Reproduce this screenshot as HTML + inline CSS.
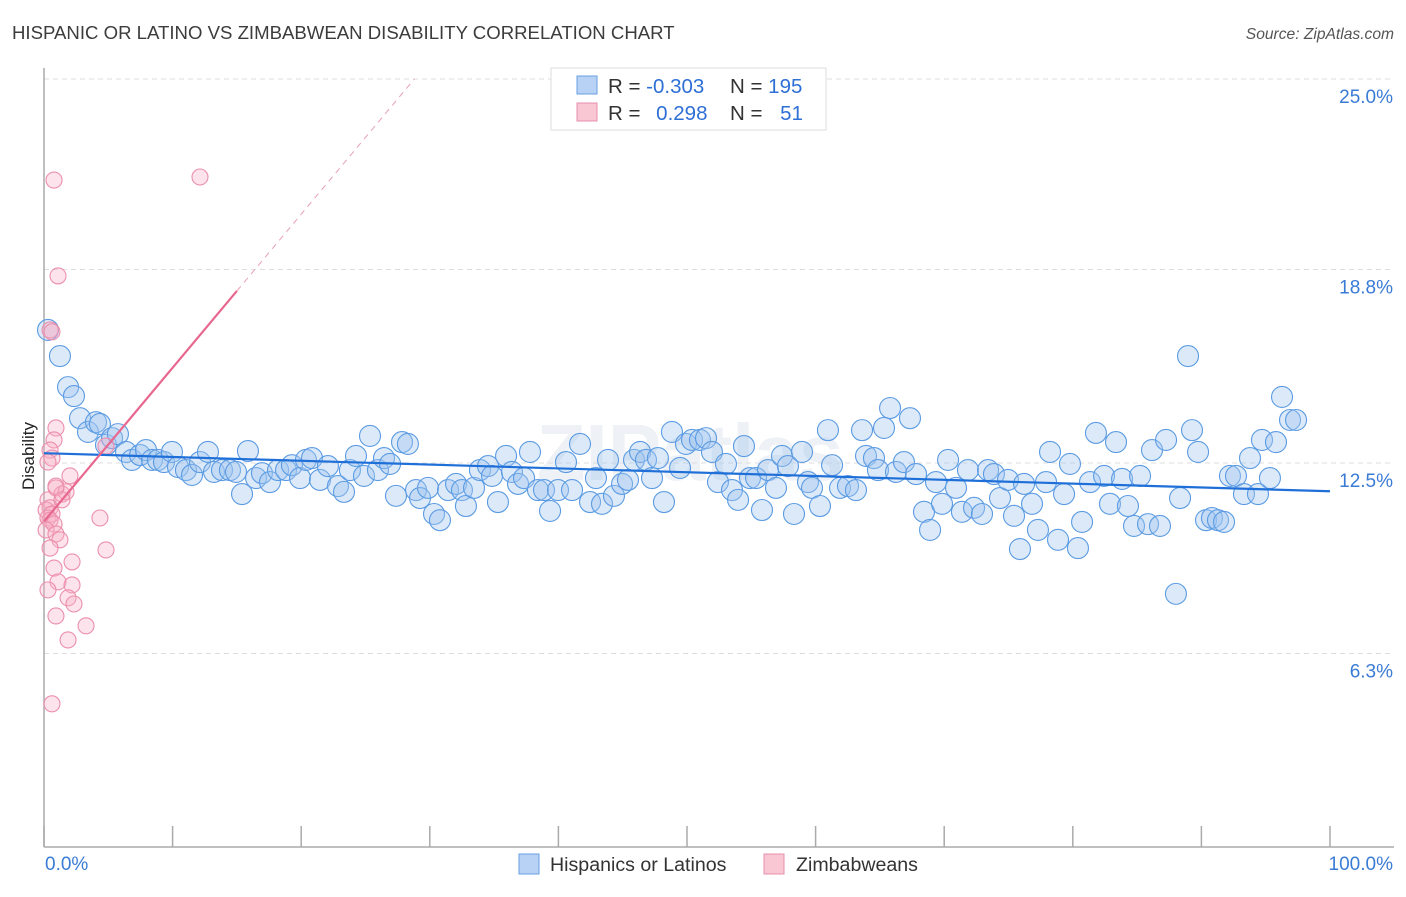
<!DOCTYPE html>
<html><head><meta charset="utf-8"><style>
body{margin:0;background:#fff;font-family:"Liberation Sans",sans-serif;}
</style></head><body>
<svg id="chart" width="1406" height="892" xmlns="http://www.w3.org/2000/svg" style="font-family:'Liberation Sans',sans-serif">
<text x="12" y="39" font-size="18.6" fill="#3c3c3c">HISPANIC OR LATINO VS ZIMBABWEAN DISABILITY CORRELATION CHART</text>
<text x="1394" y="39" font-size="15.6" fill="#555" font-style="italic" text-anchor="end">Source: ZipAtlas.com</text>
<text x="690" y="480" font-size="80" fill="#eef1f6" text-anchor="middle" font-weight="bold">ZIPatlas</text>
<g id="grid"></g>
<g id="axes"></g>
<g id="blue"></g>
<g id="pink"></g>
<g id="trends"></g>
<text x="34" y="456" font-size="17" fill="#222" text-anchor="middle" transform="rotate(-90 34 456)">Disability</text>
<g>
<rect x="551" y="68" width="275" height="62" fill="#fff" stroke="#ddd"/>
<rect x="577" y="76" width="20" height="18" fill="#b7d2f5" stroke="#6a9fe0"/>
<rect x="577" y="103" width="20" height="18" fill="#f9c6d4" stroke="#e78fab"/>
<text x="608" y="93" font-size="20.5" fill="#333">R = <tspan fill="#2e6fd6">-0.303</tspan></text>
<text x="730" y="93" font-size="20.5" fill="#333">N = <tspan fill="#2e6fd6">195</tspan></text>
<text x="608" y="120" font-size="20.5" fill="#333">R = <tspan fill="#2e6fd6" dx="10">0.298</tspan></text>
<text x="730" y="120" font-size="20.5" fill="#333">N = <tspan fill="#2e6fd6" dx="12">51</tspan></text>
</g>
<g>
<rect x="519" y="854" width="20" height="20" fill="#b7d2f5" stroke="#6a9fe0"/>
<text x="550" y="871" font-size="19.6" fill="#333">Hispanics or Latinos</text>
<rect x="764" y="854" width="20" height="20" fill="#f9c6d4" stroke="#e78fab"/>
<text x="796" y="871" font-size="19.6" fill="#333">Zimbabweans</text>
</g>
</svg>
<script>
const yTicks=[25.0,18.8,12.5,6.3];
const yTickLabels=["25.0%","18.8%","12.5%","6.3%"];
const xTickLabels=["0.0%","100.0%"];
const blueX=[0.31,1.24,1.87,2.33,2.80,3.42,4.04,4.35,4.82,5.29,5.75,6.38,6.84,7.47,7.93,8.40,8.86,9.33,9.95,10.42,11.04,11.51,12.13,12.75,13.22,13.84,14.46,14.93,15.40,15.86,16.49,16.95,17.57,18.20,18.82,19.28,19.91,20.37,20.84,21.46,22.08,22.86,23.33,23.79,24.26,24.88,25.35,25.97,26.44,26.91,27.37,27.84,28.30,28.93,29.24,29.86,30.33,30.79,31.42,32.04,32.50,32.81,33.44,33.90,34.53,34.84,35.30,35.93,36.39,36.86,37.33,37.79,38.41,38.88,39.35,39.97,40.59,41.06,41.68,42.46,42.92,43.39,43.86,44.32,44.95,45.41,45.88,46.35,46.81,47.28,47.74,48.21,48.83,49.46,49.92,50.39,51.01,51.48,51.94,52.41,53.03,53.50,53.97,54.43,54.90,55.37,55.83,56.30,56.92,57.39,57.85,58.32,58.94,59.41,59.72,60.34,60.96,61.28,61.90,62.52,63.14,63.61,63.92,64.54,64.85,65.32,65.79,66.25,66.87,67.34,67.81,68.43,68.90,69.36,69.83,70.30,70.92,71.38,71.85,72.32,72.94,73.41,73.87,74.34,74.96,75.43,75.89,76.21,76.83,77.29,77.92,78.23,78.85,79.32,79.78,80.40,80.72,81.34,81.80,82.43,82.89,83.36,83.83,84.29,84.76,85.23,85.85,86.16,86.78,87.25,88.02,88.34,88.96,89.27,89.74,90.36,90.82,91.29,91.76,92.22,92.69,93.31,93.78,94.40,94.71,95.33,95.80,96.27,96.89,97.36];
const blueY=[16.83,15.98,14.97,14.68,13.96,13.51,13.83,13.77,13.09,13.31,13.44,12.86,12.60,12.76,12.92,12.60,12.60,12.53,12.86,12.37,12.27,12.11,12.53,12.86,12.21,12.27,12.27,12.21,11.49,12.89,12.01,12.17,11.88,12.27,12.27,12.43,12.01,12.60,12.66,11.95,12.40,11.75,11.56,12.27,12.73,12.08,13.38,12.27,12.66,12.47,11.43,13.18,13.12,11.62,11.36,11.69,10.84,10.64,11.62,11.82,11.62,11.10,11.69,12.27,12.40,12.08,11.23,12.73,12.21,11.82,12.01,12.86,11.62,11.62,10.94,11.62,12.53,11.62,13.12,11.23,12.01,11.17,12.60,11.43,11.82,11.95,12.60,12.86,12.60,12.01,12.66,11.23,13.51,12.34,13.12,13.25,13.25,13.31,12.86,11.88,12.47,11.62,11.30,13.05,12.01,12.01,10.97,12.27,11.69,12.73,12.40,10.84,12.86,11.88,11.69,11.10,13.57,12.43,11.69,11.75,11.62,13.57,12.73,12.66,12.27,13.64,14.29,12.21,12.53,13.96,12.14,10.91,10.32,11.88,11.17,12.60,11.69,10.91,12.27,11.04,10.84,12.27,12.14,11.36,11.95,10.78,9.70,11.82,11.17,10.32,11.88,12.86,10.00,11.49,12.47,9.73,10.58,11.88,13.48,12.08,11.17,13.18,11.98,11.10,10.45,12.08,10.51,12.92,10.45,13.25,8.24,11.36,15.98,13.57,12.86,10.64,10.71,10.64,10.58,12.08,12.08,11.49,12.66,11.49,13.25,12.01,13.18,14.65,13.90,13.90];
const pinkX=[0.78,12.13,1.09,0.47,0.62,4.82,0.93,0.78,0.47,0.62,0.31,2.02,0.93,1.40,1.71,0.31,0.47,0.16,0.62,0.31,0.47,0.78,0.16,0.93,1.24,0.47,4.35,4.82,2.18,0.78,1.09,2.18,1.87,2.33,0.31,0.93,3.27,1.87,0.62,0.93,1.40];
const pinkY=[21.71,21.81,18.59,16.83,16.77,13.05,13.64,13.25,12.92,12.66,12.53,12.08,11.75,11.49,11.56,11.30,11.04,10.97,10.84,10.71,10.64,10.51,10.32,10.19,10.00,9.73,10.71,9.67,9.28,9.08,8.63,8.53,8.11,7.91,8.37,7.52,7.20,6.74,4.66,11.69,11.30];
const blueTrend=[12.82,-0.0124];
const pinkTrend=[10.6,0.50];
const NS="http://www.w3.org/2000/svg";
const X0=44,X1=1330,Y25=79,YPX=30.72;
function sx(v){return X0+(X1-X0)*v/100;}
function sy(v){return Y25+(25-v)*YPX;}
function mk(tag,attrs,parent){const e=document.createElementNS(NS,tag);for(const k in attrs)e.setAttribute(k,attrs[k]);parent.appendChild(e);return e;}
const grid=document.getElementById('grid'),axes=document.getElementById('axes');
yTicks.forEach((t,i)=>{
 const l=mk('line',{x1:X0,x2:1394,y1:sy(t),y2:sy(t),stroke:'#ddd','stroke-dasharray':'5,4'},grid);
 
 
 const tx=mk('text',{x:1393,y:sy(t)+24,'font-size':19,fill:'#3a7bd5','text-anchor':'end'},axes);
 tx.textContent=yTickLabels[i];
 
 
});
const ya=mk('line',{x1:X0,x2:X0,y1:68,y2:847,stroke:'#aaa','stroke-width':1.5},axes);


const xa=mk('line',{x1:X0,x2:1394,y1:847,y2:847,stroke:'#aaa','stroke-width':1.5},axes);


for(let i=0;i<=10;i++){
 const tk=mk('line',{x1:sx(i*10),x2:sx(i*10),y1:826,y2:847,stroke:'#aaa','stroke-width':1.5},axes);
 
 
}
[[0,'start',45],[100,'end',1393]].forEach((d,i)=>{
 const t=mk('text',{x:d[2],y:870,'font-size':19,fill:'#3a7bd5','text-anchor':d[1]},axes);
 t.textContent=xTickLabels[i];
 
 
});
const bg=document.getElementById('blue');
blueX.forEach((x,i)=>{
 const c=mk('circle',{cx:sx(x),cy:sy(blueY[i]),r:10.5,fill:'rgba(160,196,240,0.38)',stroke:'#5b9be3','stroke-width':1.1},bg);
 
 
});
const pg=document.getElementById('pink');
pinkX.forEach((x,i)=>{
 const c=mk('circle',{cx:sx(x),cy:sy(pinkY[i]),r:8,fill:'rgba(248,176,198,0.35)',stroke:'#eb8fad','stroke-width':1.1},pg);
 
 
});
const tg=document.getElementById('trends');
const bl=mk('line',{x1:sx(0),y1:sy(blueTrend[0]),x2:sx(100),y2:sy(blueTrend[0]+100*blueTrend[1]),stroke:'#1f6fd8','stroke-width':2.2},tg);


const xs=15, xe=(25-pinkTrend[0])/pinkTrend[1];
const pl=mk('line',{x1:sx(0),y1:sy(pinkTrend[0]),x2:sx(xs),y2:sy(pinkTrend[0]+xs*pinkTrend[1]),stroke:'#e8678f','stroke-width':2.2},tg);


const pd=mk('line',{x1:sx(xs),y1:sy(pinkTrend[0]+xs*pinkTrend[1]),x2:sx(xe),y2:sy(25),stroke:'#e8a0b6','stroke-width':1,'stroke-dasharray':'6,5'},tg);


</script>
</body></html>
